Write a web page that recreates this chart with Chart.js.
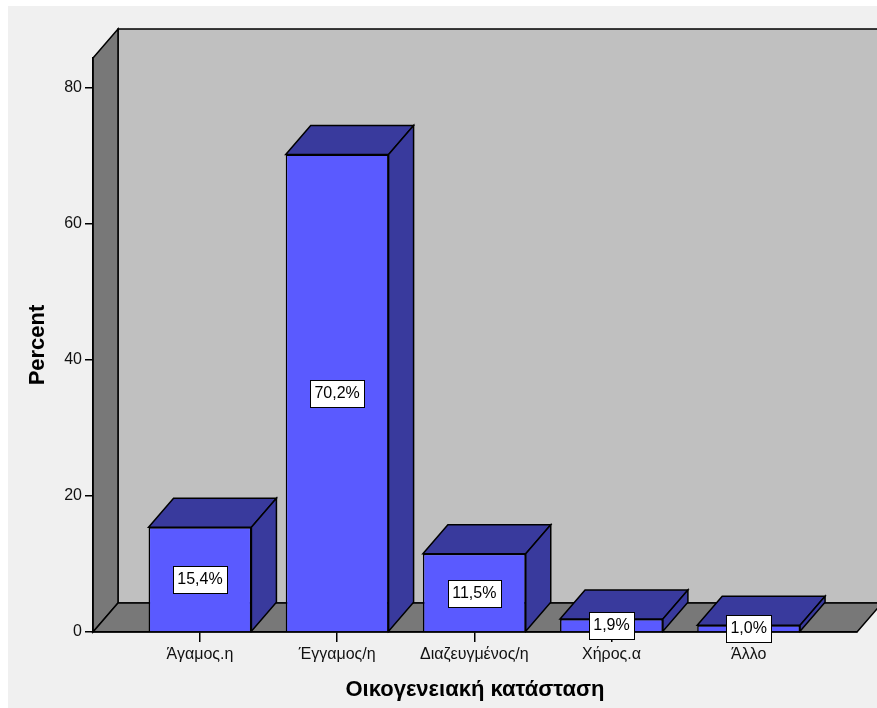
<!DOCTYPE html>
<html>
<head>
<meta charset="utf-8">
<script src="https://cdn.jsdelivr.net/npm/chart.js@4.4.1/dist/chart.umd.min.js"></script>
<style>
  html, body { margin: 0; padding: 0; background: #fff; }
  #wrap { position: absolute; left: 8px; top: 6px; width: 869px; height: 702px; background: #f0f0f0; }
</style>
</head>
<body>
<div id="wrap"><canvas id="graphCanvas" width="869" height="702"></canvas></div>
<script>
// Données
const categories = ['Άγαμος.η', 'Έγγαμος/η', 'Διαζευγμένος/η', 'Χήρος.α', 'Άλλο'];
const percents = [15.4, 70.2, 11.5, 1.9, 1.0];
const percentLabels = ['15,4%', '70,2%', '11,5%', '1,9%', '1,0%'];
const yTickValues = [0, 20, 40, 60, 80];

const FONT = '"Liberation Sans", Arial, sans-serif';
const DX = 25, DY = 29; // profondeur 3D

function poly(ctx, pts, fill) {
    ctx.beginPath();
    ctx.moveTo(pts[0][0], pts[0][1]);
    for (let i = 1; i < pts.length; i++) ctx.lineTo(pts[i][0], pts[i][1]);
    ctx.closePath();
    ctx.fillStyle = fill;
    ctx.fill();
    ctx.stroke();
}

// Murs, sol, faces 3D et étiquettes
const box3d = {
    id: 'box3d',
    beforeDraw(chart) {
        const {ctx, chartArea: a} = chart;
        ctx.save();
        ctx.strokeStyle = '#000';
        ctx.lineWidth = 1.5;
        poly(ctx, [[a.left + DX, a.top - DY], [chart.width + 10, a.top - DY],
                   [chart.width + 10, a.bottom - DY], [a.left + DX, a.bottom - DY]], '#c0c0c0');
        poly(ctx, [[a.left, a.top], [a.left + DX, a.top - DY],
                   [a.left + DX, a.bottom - DY], [a.left, a.bottom]], '#787878');
        poly(ctx, [[a.left, a.bottom], [a.left + DX, a.bottom - DY],
                   [a.right + DX, a.bottom - DY], [a.right, a.bottom]], '#787878');
        ctx.restore();
    },
    afterDatasetsDraw(chart) {
        const {ctx} = chart;
        const bars = chart.getDatasetMeta(0).data;
        ctx.save();
        ctx.strokeStyle = '#000';
        ctx.lineWidth = 1.5;
        bars.forEach(bar => {
            const {x, y, base, width} = bar.getProps(['x', 'y', 'base', 'width'], true);
            const l = x - width / 2, r = x + width / 2;
            poly(ctx, [[l, y], [l + DX, y - DY], [r + DX, y - DY], [r, y]], '#393a9d');
            poly(ctx, [[r, y], [r + DX, y - DY], [r + DX, base - DY], [r, base]], '#393a9d');
        });
        // étiquettes
        ctx.font = '16px ' + FONT;
        ctx.textAlign = 'center';
        ctx.textBaseline = 'middle';
        ctx.lineWidth = 1;
        bars.forEach((bar, i) => {
            const {x, y, base} = bar.getProps(['x', 'y', 'base'], true);
            const cy = Math.round((y + base) / 2);
            const w = Math.round(ctx.measureText(percentLabels[i]).width + 9);
            const h = 27;
            const bx = Math.round(x - w / 2) + 0.5, by = Math.round(cy - h / 2) + 0.5;
            ctx.fillStyle = '#fff';
            ctx.fillRect(bx, by, w, h);
            ctx.strokeRect(bx, by, w, h);
            ctx.fillStyle = '#000';
            ctx.fillText(percentLabels[i], x, cy + 1);
        });
        ctx.restore();
    }
};

const ctx = document.getElementById('graphCanvas').getContext('2d');
const chart = new Chart(ctx, {
    type: 'bar',
    data: {
        datasets: [{
            data: percents.map((p, i) => ({x: i + 1, y: p})),
            backgroundColor: '#5a5aff',
            borderColor: '#000',
            borderWidth: 1.5,
            categoryPercentage: 1,
            barPercentage: 0.75
        }]
    },
    options: {
        responsive: false,
        animation: false,
        layout: {padding: {top: 52, right: 20, left: 0, bottom: 0}},
        plugins: {legend: {display: false}, tooltip: {enabled: false}},
        scales: {
            x: {
                type: 'linear',
                min: 0.22,
                max: 5.79,
                offset: false,
                afterBuildTicks: s => { s.ticks = categories.map((c, i) => ({value: i + 1})); },
                afterFit: s => { s.height = 76; },
                ticks: {
                    callback: (v, i) => categories[i],
                    font: {size: 16, family: FONT},
                    color: '#111',
                    padding: 3,
                    maxRotation: 0,
                    autoSkip: false
                },
                grid: {offset: false, drawOnChartArea: false, tickLength: 10, color: '#000', lineWidth: 1.5},
                border: {display: true, color: '#000', width: 1.5},
                title: {
                    display: true,
                    text: 'Οικογενειακή κατάσταση',
                    font: {size: 22, weight: 'bold', family: FONT},
                    color: '#000',
                    padding: {top: 0, bottom: 5}
                }
            },
            y: {
                min: 0,
                max: 84.4,
                afterBuildTicks: s => { s.ticks = yTickValues.map(v => ({value: v})); },
                afterFit: s => { s.width = 85; },
                ticks: {font: {size: 16, family: FONT}, color: '#111', padding: 3},
                grid: {drawOnChartArea: false, tickLength: 8, color: '#000', lineWidth: 1.5},
                border: {display: true, color: '#000', width: 1.5},
                title: {
                    display: true,
                    text: 'Percent',
                    font: {size: 22, weight: 'bold', family: FONT},
                    color: '#000',
                    padding: {top: 17, bottom: 0}
                }
            }
        }
    },
    plugins: [box3d]
});
</script>
</body>
</html>
